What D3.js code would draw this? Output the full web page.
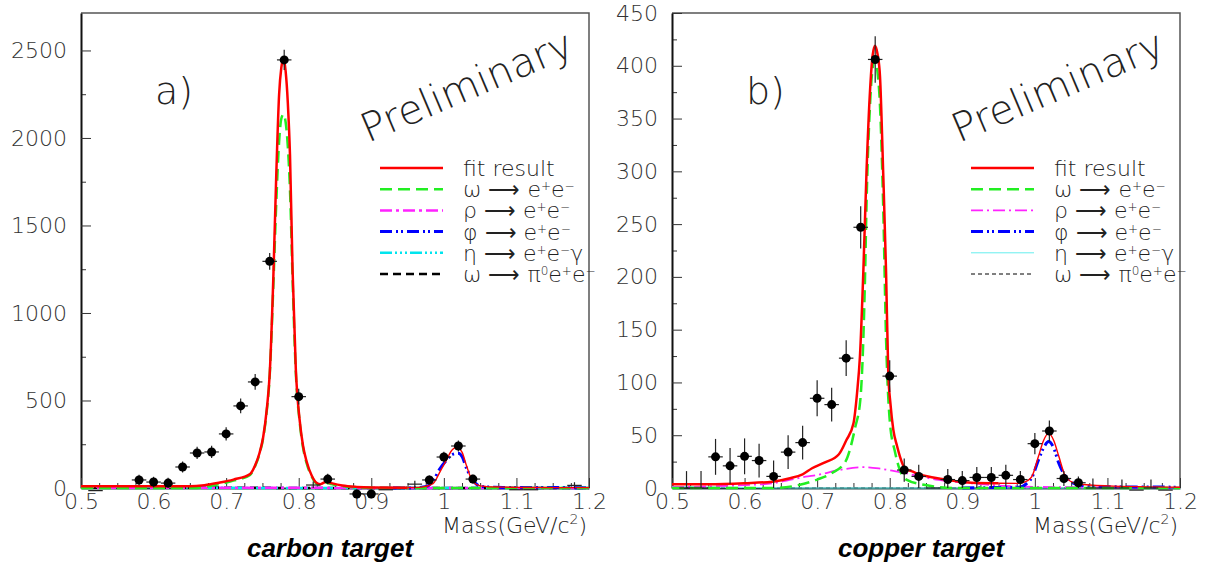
<!DOCTYPE html>
<html>
<head>
<meta charset="utf-8">
<script src="https://cdnjs.cloudflare.com/ajax/libs/d3/7.8.5/d3.min.js"></script>
<style>
body { margin: 0; background: #fff; }
svg { display: block; font-family: "DejaVu Sans", sans-serif; }
.tick text { font-family: "DejaVu Sans"; font-weight: 200; font-size: 22px; fill: #333; }
.thin { font-family: "DejaVu Sans"; font-weight: 200; fill: #222; }
</style>
</head>
<body>
<svg id="chart" width="1206" height="567"></svg>
<script>
//---------------------------- DATA ----------------------------//
const xMajor = [0.5, 0.6, 0.7, 0.8, 0.9, 1.0, 1.1, 1.2];
const xTickLabels = ["0.5", "0.6", "0.7", "0.8", "0.9", "1", "1.1", "1.2"];
const carbonYMajor = [0, 500, 1000, 1500, 2000, 2500];
const copperYMajor = [0, 50, 100, 150, 200, 250, 300, 350, 400, 450];

// carbon target, bins with marker
const carbonMass   = [0.58, 0.60, 0.62, 0.64, 0.66, 0.68, 0.70, 0.72, 0.74, 0.76, 0.78, 0.80, 0.84, 0.88, 0.90, 0.98, 1.00, 1.02, 1.04];
const carbonCounts = [46, 34, 28, 120, 200, 206, 309, 469, 606, 1295, 2446, 522, 51, -34, -34, 46, 177, 240, 51];
const carbonErr    = [30, 30, 30, 32, 35, 35, 38, 42, 45, 48, 58, 45, 30, 25, 25, 25, 30, 32, 25];
// carbon target, bins drawn as bare error crosses
const carbonLowMass   = [0.52, 0.82, 0.92, 0.96, 1.10, 1.12, 1.18];
const carbonLowCounts = [-15, 17, -10, 22, -10, -10, 15];
const carbonLowErr    = [0, 20, 0, 20, 0, 0, 18];

// copper target, bins with marker
const copperMass   = [0.56, 0.58, 0.60, 0.62, 0.64, 0.66, 0.68, 0.70, 0.72, 0.74, 0.76, 0.78, 0.80, 0.82, 0.84, 0.88, 0.90, 0.92, 0.94, 0.96, 0.98, 1.00, 1.02, 1.04, 1.06];
const copperCounts = [29.5, 21, 30, 26, 11, 34, 43, 85, 79, 123, 247, 406, 106, 17, 11, 8, 7, 10, 10, 12, 8, 42, 54, 9, 5];
const copperErr    = [17, 17, 17, 16, 15, 16, 16, 17, 16, 17, 20, 22, 15, 11, 11, 10, 9, 10, 10, 10, 8, 10, 10, 7, 6];
// copper target, empty bins (error bar only)
const copperLowMass   = [0.52, 0.54, 0.86, 1.08, 1.10, 1.12, 1.14, 1.16, 1.18];
const copperLowCounts = [0, 0, 0, 0, 0, 0, -2, 0, -2];
const copperLowErr    = [16, 16, 0, 9, 0, 8, 0, 8, 0];

// fit curves, [mass, value]
const carbonFit = [[0.50,10],[0.55,10],[0.60,10],[0.65,10],[0.67,16],[0.69,30],[0.71,48],[0.733,80],[0.740,130],[0.746,200],[0.751,290],[0.756,450],[0.760,650],[0.765,1200],[0.769,1780],[0.773,2250],[0.776,2400],[0.779,2455],[0.782,2380],[0.785,2200],[0.788,1900],[0.7915,1250],[0.796,680],[0.8015,380],[0.806,240],[0.811,150],[0.818,70],[0.8245,30],[0.830,22],[0.838,36],[0.845,28],[0.86,14],[0.88,6],[0.90,3],[0.95,2],[0.97,5],[0.985,25],[0.995,95],[1.0036,160],[1.010,210],[1.0175,232],[1.025,205],[1.031,130],[1.040,35],[1.05,12],[1.059,8],[1.08,5],[1.12,3],[1.20,2]];
const carbonOmega = [[0.50,0],[0.66,0],[0.67,6],[0.69,22],[0.71,42],[0.733,75],[0.740,125],[0.746,195],[0.751,285],[0.756,440],[0.760,640],[0.765,1150],[0.769,1620],[0.773,1980],[0.776,2110],[0.779,2135],[0.782,2090],[0.785,1950],[0.788,1700],[0.7915,1200],[0.796,660],[0.8015,370],[0.806,230],[0.811,140],[0.818,65],[0.8245,25],[0.830,18],[0.838,30],[0.845,22],[0.86,10],[0.88,4],[0.90,1],[0.95,0],[1.20,0]];
const carbonRho = [[0.50,1],[0.70,1],[0.80,1],[0.90,0],[1.20,0]];
const carbonPhi = [[0.93,0],[0.95,0],[0.976,8],[0.985,40],[0.9945,110],[1.005,165],[1.012,192],[1.0197,198],[1.025,180],[1.031,115],[1.040,45],[1.05,10],[1.07,4],[1.10,3],[1.20,2]];
const carbonEta = [[0.50,8],[0.55,7],[0.60,5],[0.65,3],[0.70,1],[0.75,0],[1.20,0]];
const carbonPi0 = [[0.50,2],[0.60,3],[0.70,2],[0.75,1],[0.80,0],[1.20,0]];

const copperFit = [[0.50,3.5],[0.55,3.5],[0.60,4.5],[0.638,6],[0.661,9],[0.68,13],[0.693,18.7],[0.71,24],[0.73,32],[0.74,45],[0.75,61],[0.755,90],[0.759,125],[0.7636,204],[0.768,299],[0.773,378],[0.7765,410],[0.7797,419],[0.7835,410],[0.7866,390],[0.791,299],[0.795,204],[0.798,109],[0.801,80],[0.805,55],[0.81,40],[0.814,30],[0.8215,18],[0.83,16],[0.84,13],[0.86,10],[0.881,7.6],[0.913,5],[0.95,4.5],[0.978,4.4],[0.99,7],[0.996,11],[1.005,30],[1.012,45],[1.019,52],[1.026,45],[1.033,30],[1.042,11],[1.05,6],[1.06,3.8],[1.10,2],[1.20,0.7]];
const copperOmega = [[0.50,0],[0.638,0],[0.6746,2.8],[0.70,8],[0.72,14],[0.739,25],[0.7526,58],[0.7595,83.5],[0.7636,140],[0.766,200],[0.768,267],[0.7728,362],[0.7765,398],[0.7797,406],[0.783,395],[0.7866,362],[0.791,267],[0.795,140],[0.8004,61],[0.807,35],[0.814,17],[0.823,8],[0.849,2.8],[0.89,0],[1.20,0]];
const copperRho = [[0.50,0.7],[0.55,1.5],[0.60,2.8],[0.638,4.4],[0.658,7],[0.684,10.7],[0.70,12.3],[0.73,17],[0.764,19.7],[0.785,18.5],[0.799,17],[0.8215,14],[0.8675,7.6],[0.913,4.4],[0.959,1.9],[1.051,0.7],[1.20,0.4]];
const copperPhi = [[0.90,0],[0.95,0.5],[0.978,0.7],[0.99,5],[0.996,10],[1.005,26.6],[1.012,38],[1.019,44],[1.026,38],[1.033,23.4],[1.0467,7.6],[1.06,3],[1.074,1.9],[1.10,1.2],[1.20,0.8]];
const copperEta = [[0.50,1.5],[0.55,1],[0.60,0.5],[0.70,0],[1.20,0]];
const copperPi0 = [[0.50,0.3],[0.60,0.3],[0.70,0],[1.20,0]];

//--------------------------- STYLES ---------------------------//
const leftStyles = [
    { color: "#ff0000", width: 2.5, dash: null },
    { color: "#22ee22", width: 2.5, dash: "12,6" },
    { color: "#ff22ff", width: 2.5, dash: "12,4,3,4" },
    { color: "#0000ff", width: 3, dash: "12,4,2,3,2,4" },
    { color: "#00e5ee", width: 2.5, dash: "12,3,2,3,2,3,2,3" },
    { color: "#000000", width: 2.5, dash: "8,5" }
];
const rightStyles = [
    { color: "#ff0000", width: 2.5, dash: null },
    { color: "#22ee22", width: 2.5, dash: "12,6" },
    { color: "#ff22ff", width: 1.8, dash: "12,4,2,4" },
    { color: "#0000ff", width: 3, dash: "12,4,2,3,2,4" },
    { color: "#66eeee", width: 1, dash: null },
    { color: "#000000", width: 1, dash: "4,3" }
];

const panels = [
    { left: 81, right: 589, yMax: 2714, yMajor: carbonYMajor, yMinorStep: 250,
      mass: carbonMass, counts: carbonCounts, err: carbonErr,
      lowMass: carbonLowMass, lowCounts: carbonLowCounts, lowErr: carbonLowErr,
      curves: [carbonFit, carbonOmega, carbonRho, carbonPhi, carbonEta, carbonPi0],
      styles: leftStyles, tag: "a)", target: "carbon target" },
    { left: 672, right: 1180, yMax: 450, yMajor: copperYMajor, yMinorStep: 25,
      mass: copperMass, counts: copperCounts, err: copperErr,
      lowMass: copperLowMass, lowCounts: copperLowCounts, lowErr: copperLowErr,
      curves: [copperFit, copperOmega, copperRho, copperPhi, copperEta, copperPi0],
      styles: rightStyles, tag: "b)", target: "copper target" }
];

const frameTop = 13, frameBottom = 488;
const svg = d3.select("#chart");

function legendLabel(text, i) {
    // 0 plain, 1 superscript, 2 back to baseline
    const parts = [
        [["fit result", 0]],
        [["ω ⟶ e", 0], ["+", 1], ["e", 2], ["−", 1]],
        [["ρ ⟶ e", 0], ["+", 1], ["e", 2], ["−", 1]],
        [["φ ⟶ e", 0], ["+", 1], ["e", 2], ["−", 1]],
        [["η ⟶ e", 0], ["+", 1], ["e", 2], ["−", 1], ["γ", 2]],
        [["ω ⟶ π", 0], ["0", 1], ["e", 2], ["+", 1], ["e", 2], ["−", 1]]
    ][i];
    parts.forEach(function(p) {
        const t = text.append("tspan").text(p[0]);
        if (p[1] === 1) t.attr("dy", -7).style("font-size", "12px");
        if (p[1] === 2) t.attr("dy", 7);
    });
}

panels.forEach(function(p) {
    const x = d3.scaleLinear().domain([0.5, 1.2]).range([p.left, p.right]);
    const y = d3.scaleLinear().domain([0, p.yMax]).range([frameBottom, frameTop]);
    const g = svg.append("g");

    // frame
    g.append("path")
        .attr("d", "M" + p.left + "," + frameTop + "H" + p.right + "V" + frameBottom)
        .attr("fill", "none").attr("stroke", "#555").attr("stroke-width", 1.5);

    // axes
    const yMinor = d3.range(p.yMinorStep, p.yMax, p.yMinorStep * 2);
    g.append("g").attr("transform", "translate(" + p.left + ",0)")
        .call(d3.axisLeft(y).tickValues(yMinor).tickSizeInner(-5).tickSizeOuter(0).tickFormat(""))
        .call(s => s.select(".domain").remove())
        .selectAll("line").attr("stroke", "#333");
    const ya = g.append("g").attr("transform", "translate(" + p.left + ",0)")
        .call(d3.axisLeft(y).tickValues(p.yMajor).tickSizeInner(-10).tickSizeOuter(0).tickPadding(14)
            .tickFormat(d3.format("d")));
    ya.select(".domain").attr("stroke", "#111").attr("stroke-width", 2);
    ya.selectAll("line").attr("stroke", "#333");

    const xMinor = d3.range(0.525, 1.2, 0.025).filter(v => Math.abs(v * 10 - Math.round(v * 10)) > 0.01);
    g.append("g").attr("transform", "translate(0," + frameBottom + ")")
        .call(d3.axisBottom(x).tickValues(xMinor).tickSizeInner(-5).tickSizeOuter(0).tickFormat(""))
        .call(s => s.select(".domain").remove())
        .selectAll("line").attr("stroke", "#333");
    const xa = g.append("g").attr("transform", "translate(0," + frameBottom + ")")
        .call(d3.axisBottom(x).tickValues(xMajor).tickSizeInner(-10).tickSizeOuter(0).tickPadding(5)
            .tickFormat((d, i) => xTickLabels[i]));
    xa.select(".domain").attr("stroke", "#244a4a").attr("stroke-width", 2);
    xa.selectAll("line").attr("stroke", "#333");

    // curves, background components first
    const line = d3.line().curve(d3.curveMonotoneX)
        .x(d => x(d[0])).y(d => y(d[1]));
    [5, 4, 2, 3, 1].forEach(function(k) {
        const st = p.styles[k];
        g.append("path").attr("d", line(p.curves[k]))
            .attr("fill", "none").attr("stroke", st.color)
            .attr("stroke-width", st.width).attr("stroke-dasharray", st.dash);
    });
    const fit = p.curves[0];
    g.append("path").attr("d", line(fit.filter(d => d[0] <= 0.95)))
        .attr("fill", "none").attr("stroke", "#ff0000").attr("stroke-width", 2.5);
    g.append("path").attr("d", line(fit.filter(d => d[0] >= 0.95)))
        .attr("fill", "none").attr("stroke", "#ff0000").attr("stroke-width", 1.4);

    // data
    function bars(mass, counts, err, withMarker) {
        mass.forEach(function(m, i) {
            const c = counts[i], e = err[i];
            const lo = c >= 0 ? Math.max(c - e, 0) : c - e;
            g.append("line").attr("x1", x(m - 0.01)).attr("x2", x(m + 0.01))
                .attr("y1", y(c)).attr("y2", y(c)).attr("stroke", "#222").attr("stroke-width", 1.2);
            if (e > 0) g.append("line").attr("x1", x(m)).attr("x2", x(m))
                .attr("y1", y(lo)).attr("y2", y(c + e)).attr("stroke", "#222").attr("stroke-width", 1.2);
            if (withMarker) g.append("circle").attr("cx", x(m)).attr("cy", y(c)).attr("r", 4.5).attr("fill", "#000");
        });
    }
    bars(p.lowMass, p.lowCounts, p.lowErr, false);
    bars(p.mass, p.counts, p.err, true);

    // labels
    const mt = g.append("text").attr("class", "thin").attr("x", p.right - 2).attr("y", 533)
        .attr("text-anchor", "end").style("font-size", "22px");
    mt.append("tspan").text("Mass(GeV/c");
    mt.append("tspan").attr("dy", -9).style("font-size", "14px").text("2");
    mt.append("tspan").attr("dy", 9).text(")");
    g.append("text").attr("x", (p.left + p.right) / 2 - 5).attr("y", 557)
        .attr("text-anchor", "middle")
        .style("font-family", "'Liberation Sans', Arial, sans-serif")
        .style("font-weight", "bold").style("font-style", "italic").style("font-size", "26px")
        .text(p.target);
    g.append("text").attr("class", "thin").attr("x", p.left + 74).attr("y", 104)
        .style("font-size", "38px").text(p.tag);
    g.append("text").attr("class", "thin")
        .attr("transform", "translate(" + (p.left + 287) + ",143) rotate(-23)")
        .style("font-size", "40px").text("Preliminary");

    // legend
    p.styles.forEach(function(st, i) {
        const ly = 168 + i * 21.2;
        g.append("line").attr("x1", p.left + 299).attr("x2", p.left + 362)
            .attr("y1", ly).attr("y2", ly)
            .attr("stroke", st.color).attr("stroke-width", st.width).attr("stroke-dasharray", st.dash);
        const t = g.append("text").attr("class", "thin").attr("x", p.left + 382).attr("y", ly + 8)
            .style("font-size", "22px");
        legendLabel(t, i);
    });
});
</script>
</body>
</html>
